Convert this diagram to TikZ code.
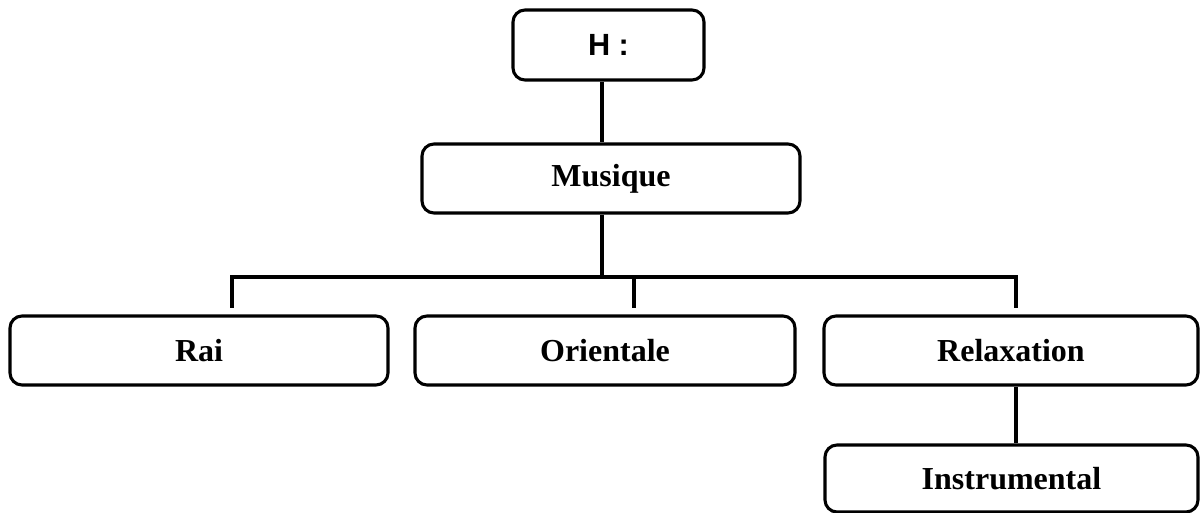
\documentclass[tikz,border=0pt]{standalone}
\usepackage{fontspec}
\setmainfont{Liberation Serif}
\newfontfamily\hfont{Liberation Sans}
\begin{document}
\begin{tikzpicture}[x=0.75pt,y=-0.75pt,
  box/.style={draw=black, line width=2.3pt, rounded corners=9pt, fill=white,
    inner sep=0pt, font=\fontsize{24}{28}\selectfont\bfseries},
  link/.style={draw=black, line width=2.3pt}]
\useasboundingbox (0,0) rectangle (1200,513);
\node[box, minimum width=191*0.75pt, minimum height=70*0.75pt, font=\fontsize{23}{27}\selectfont\bfseries] (H) at (608.5,45) {\hfont H :};
\node[box, minimum width=378*0.75pt, minimum height=69*0.75pt] (M) at (611,178.5) {Musique};
\node[box, minimum width=378*0.75pt, minimum height=69*0.75pt] (R) at (199,350.5) {Rai};
\node[box, minimum width=380*0.75pt, minimum height=69*0.75pt] (O) at (605,350.5) {Orientale};
\node[box, minimum width=374*0.75pt, minimum height=69*0.75pt] (X) at (1011,350.5) {Relaxation};
\node[box, minimum width=373*0.75pt, minimum height=67*0.75pt] (I) at (1011.5,478.5) {Instrumental};
\coordinate (s) at (602,0);
\coordinate (bar) at (0,277);
\coordinate (rl) at (232,308);
\coordinate (ol) at (634,308);
\coordinate (xl) at (1016,308);
\draw[link] (s |- H.south) -- (s |- M.north);
\draw[link] (s |- M.south) -- (s |- bar);
\draw[link] (rl) -- (rl |- bar) -- (xl |- bar) -- (xl);
\draw[link] (ol |- bar) -- (ol);
\draw[link] (xl |- X.south) -- (xl |- I.north);
\end{tikzpicture}
\end{document}
